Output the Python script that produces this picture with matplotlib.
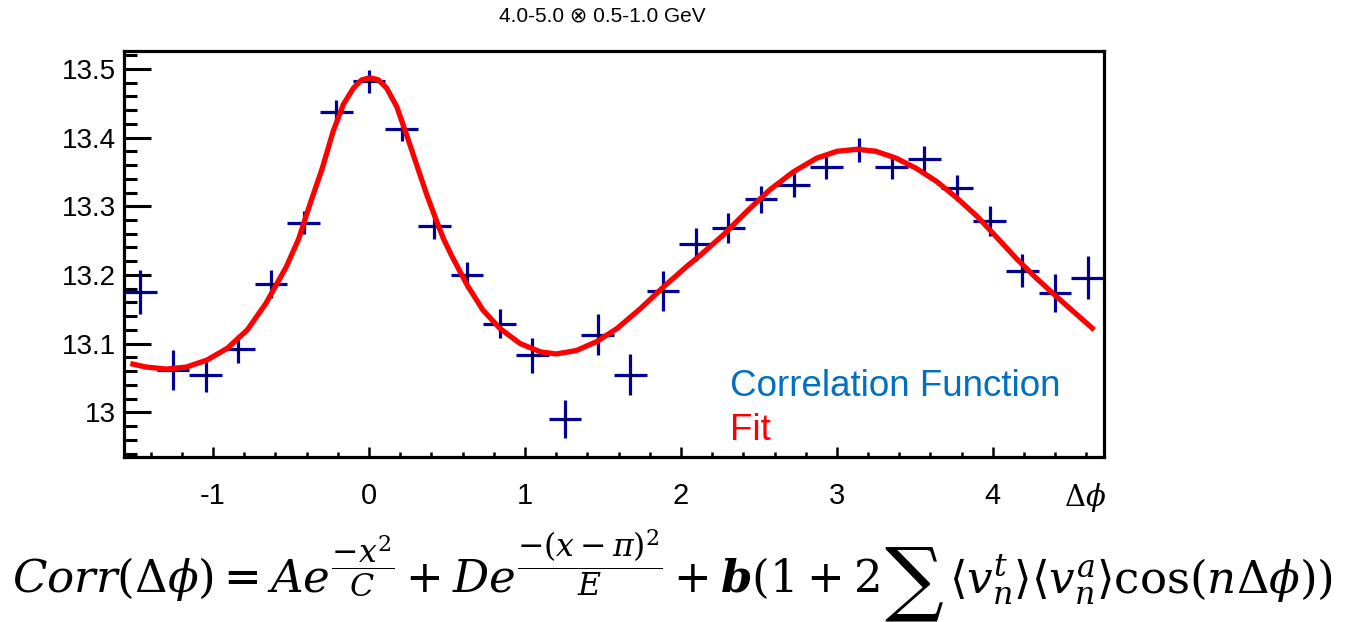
import numpy as np
import matplotlib
matplotlib.use("Agg")
from matplotlib import pyplot as plt
from matplotlib.ticker import MultipleLocator, FuncFormatter

plt.rcParams['font.family'] = ['Liberation Sans', 'DejaVu Sans']
plt.rcParams['mathtext.fontset'] = 'dejavuserif'

## data
n_bins = 30
corr = [13.175, 13.062, 13.054, 13.092, 13.187, 13.276, 13.437, 13.482, 13.412, 13.271,
        13.200, 13.129, 13.083, 12.990, 13.113, 13.055, 13.177, 13.245, 13.268, 13.310,
        13.331, 13.357, 13.382, 13.357, 13.369, 13.326, 13.278, 13.206, 13.174, 13.196]
corr_err = [0.032, 0.029, 0.025, 0.020, 0.020, 0.017, 0.017, 0.017, 0.017, 0.018,
            0.019, 0.021, 0.025, 0.028, 0.030, 0.030, 0.029, 0.024, 0.022, 0.020,
            0.017, 0.018, 0.017, 0.018, 0.019, 0.019, 0.022, 0.024, 0.028, 0.031]

# fit curve
fit_x = [-1.53, -1.43, -1.30, -1.17, -1.04, -0.91, -0.78, -0.66, -0.53, -0.45,
         -0.38, -0.30, -0.23, -0.165, -0.10, -0.047, 0.006, 0.06, 0.113, 0.178,
         0.241, 0.306, 0.37, 0.434, 0.477, 0.53, 0.63, 0.73, 0.84, 0.97,
         1.10, 1.20, 1.33, 1.46, 1.59, 1.74, 1.89, 2.04, 2.12, 2.27,
         2.42, 2.57, 2.72, 2.87, 3.00, 3.13, 3.25, 3.38, 3.51, 3.64,
         3.77, 3.90, 4.02, 4.15, 4.28, 4.41, 4.54, 4.65]
fit_y = [13.071, 13.066, 13.063, 13.066, 13.076, 13.093, 13.120, 13.159, 13.212, 13.253,
         13.302, 13.355, 13.409, 13.448, 13.472, 13.484, 13.487, 13.484, 13.472, 13.445,
         13.404, 13.360, 13.317, 13.278, 13.253, 13.228, 13.185, 13.149, 13.122, 13.100,
         13.088, 13.085, 13.090, 13.103, 13.122, 13.151, 13.183, 13.213, 13.228, 13.258,
         13.292, 13.324, 13.350, 13.370, 13.380, 13.383, 13.380, 13.370, 13.355, 13.336,
         13.312, 13.285, 13.256, 13.224, 13.195, 13.168, 13.142, 13.120]

x_ticks = [-1, 0, 1, 2, 3, 4]
title = "4.0-5.0 \u2297 0.5-1.0 GeV"
formula_parts = [
    r'$Corr(\Delta\phi) = Ae^{\dfrac{-x^2}{C}} + De^{\dfrac{-(x-\pi)^2}{E}}'
    r' + \boldsymbol{b}(1+2$',
    r'$\sum$',
    r'$\langle v_n^t\rangle\langle v_n^a\rangle\cos(n\Delta\phi))$',
]


def place_formula(fig, x0, base, sizes, shifts):
    # lay the formula pieces out one after another, left to right
    r = fig.canvas.get_renderer()
    x = x0
    W, H = fig.bbox.width, fig.bbox.height
    for part, fs, dy in zip(formula_parts, sizes, shifts):
        t = fig.text(x / W, 1 - (base + dy) / H, part, ha='left', va='baseline',
                     fontsize=fs)
        bb = t.get_window_extent(renderer=r)
        x = bb.x1 + 5


## plot
def main():
    fig = plt.figure(figsize=(13.61, 6.22), dpi=100)
    ax = fig.add_axes([124 / 1361, 1 - 457 / 622, 980 / 1361, 406 / 622])

    edges = np.linspace(-np.pi / 2, 3 * np.pi / 2, n_bins + 1)
    centers = 0.5 * (edges[1:] + edges[:-1])
    half = 0.5 * (edges[1] - edges[0])

    ax.errorbar(centers, corr, xerr=half, yerr=corr_err, fmt='none',
                ecolor='#000099', elinewidth=2.3, capsize=0, zorder=2)
    ax.plot(centers, corr, 'k.', ms=2.5, zorder=3)
    ax.plot(fit_x, fit_y, color='#ff0000', lw=3.8, solid_capstyle='butt',
            solid_joinstyle='round', zorder=4)

    ax.set_xlim(-np.pi / 2, 3 * np.pi / 2)
    ax.set_ylim(12.935, 13.526)

    ax.xaxis.set_minor_locator(MultipleLocator(0.2))
    ax.yaxis.set_major_locator(MultipleLocator(0.1))
    ax.yaxis.set_minor_locator(MultipleLocator(0.02))
    ax.set_xticks(x_ticks)
    fmt = FuncFormatter(lambda v, p: '%g' % round(v, 3))
    ax.xaxis.set_major_formatter(fmt)
    ax.yaxis.set_major_formatter(fmt)

    ax.tick_params(axis='y', which='major', direction='in', length=19.5, width=2.2,
                   labelsize=20, pad=6)
    ax.tick_params(axis='y', which='minor', direction='in', length=9.5, width=2.2)
    ax.tick_params(axis='x', which='major', direction='in', length=7.5, width=1.8,
                   labelsize=21, pad=18)
    ax.tick_params(axis='x', which='minor', direction='in', length=3.8, width=1.8)
    for s in ax.spines.values():
        s.set_linewidth(2.3)

    fig.text(602 / 1361, 1 - 16 / 622, title, ha='center', va='center', fontsize=15)
    fig.text(1085 / 1361, 1 - 497 / 622, r'$\Delta\phi$', ha='center', va='center',
             fontsize=21)

    fig.text(730 / 1361, 1 - 387 / 622, 'Correlation Function', color='#0070c0',
             ha='left', va='center', fontsize=26.5)
    fig.text(730 / 1361, 1 - 430 / 622, 'Fit', color='#ff0000',
             ha='left', va='center', fontsize=26.5)

    place_formula(fig, 12, 593, [32.5, 42, 32.5], [0, 13, 0])

    fig.savefig('out.png', dpi=100)


if __name__ == '__main__':
    main()
